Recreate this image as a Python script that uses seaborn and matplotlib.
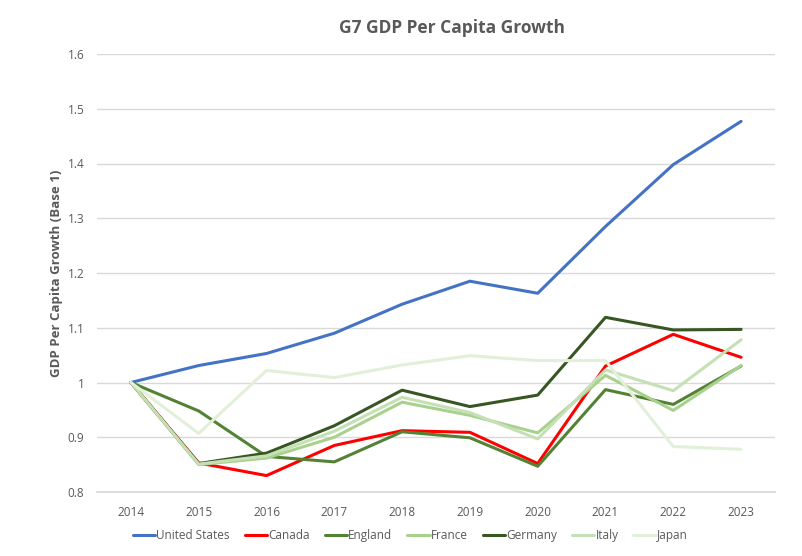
import matplotlib

matplotlib.use("Agg")
import matplotlib.pyplot as plt
import pandas as pd
import seaborn as sns

years = ["2014", "2015", "2016", "2017", "2018", "2019", "2020", "2021", "2022", "2023"]
countries = ["United States", "Canada", "England", "France", "Germany", "Italy", "Japan"]
united_states = [1.0, 1.031, 1.053, 1.090, 1.143, 1.185, 1.163, 1.285, 1.398, 1.477]
canada = [1.0, 0.853, 0.830, 0.885, 0.912, 0.909, 0.852, 1.030, 1.088, 1.046]
england = [1.0, 0.948, 0.865, 0.855, 0.910, 0.899, 0.847, 0.987, 0.960, 1.030]
france = [1.0, 0.850, 0.862, 0.900, 0.964, 0.940, 0.908, 1.013, 0.949, 1.031]
germany = [1.0, 0.852, 0.871, 0.921, 0.986, 0.956, 0.977, 1.119, 1.096, 1.097]
italy = [1.0, 0.851, 0.866, 0.911, 0.973, 0.945, 0.897, 1.023, 0.985, 1.078]
japan = [1.0, 0.907, 1.022, 1.009, 1.032, 1.049, 1.040, 1.040, 0.883, 0.878]
colors = ["#4472C4", "#FF0000", "#548235", "#A9D18E", "#375623", "#C5E0B4", "#E2F0D9"]

series = [united_states, canada, england, france, germany, italy, japan]
rows = []
for name, vals in zip(countries, series):
    for i, (yr, v) in enumerate(zip(years, vals)):
        rows.append({"idx": i, "year": yr, "country": name, "value": v})
df = pd.DataFrame(rows)

sns.set_theme(style="white")
plt.rcParams["font.family"] = ["Open Sans", "DejaVu Sans"]
grey = "#595959"

fig = plt.figure(figsize=(8.02, 5.56), dpi=100)
ax = fig.add_axes([97 / 802, 1 - 492 / 556, 678 / 802, 438 / 556])
sns.lineplot(data=df, x="idx", y="value", hue="country", hue_order=countries,
             palette=colors, linewidth=2.2, ax=ax)

ax.set_xlim(-0.5, 9.5)
ax.set_ylim(0.8, 1.6)
ax.set_xticks(range(len(years)))
ax.set_xticklabels(years)
ax.set_yticks([0.8, 0.9, 1.0, 1.1, 1.2, 1.3, 1.4, 1.5, 1.6])
ax.set_yticklabels(["0.8", "0.9", "1", "1.1", "1.2", "1.3", "1.4", "1.5", "1.6"])
ax.tick_params(axis="both", colors=grey, labelsize=8.5, length=0)
ax.tick_params(axis="x", pad=10)
ax.tick_params(axis="y", pad=9)
ax.grid(axis="y", color="#D9D9D9", linewidth=1)
ax.set_axisbelow(True)
for s in ["top", "right", "left"]:
    ax.spines[s].set_visible(False)
ax.spines["bottom"].set_color("#D9D9D9")

ax.set_xlabel("")
ax.set_ylabel("GDP Per Capita Growth (Base 1)", color=grey, fontsize=9.5,
              fontweight="bold", labelpad=3)
fig.text(452 / 802, 1 - 28 / 556, "G7 GDP Per Capita Growth", ha="center", va="center",
         color=grey, fontsize=12.5, fontweight="bold")

handles, labels = ax.get_legend_handles_labels()
ax.legend(handles, labels, loc="center", bbox_to_anchor=(0.462, -0.1), ncol=7,
          frameon=False, fontsize=8.5, labelcolor=grey, handlelength=1.9,
          handletextpad=0.1, columnspacing=1.25)

fig.savefig("out.png", dpi=100, facecolor="white")
